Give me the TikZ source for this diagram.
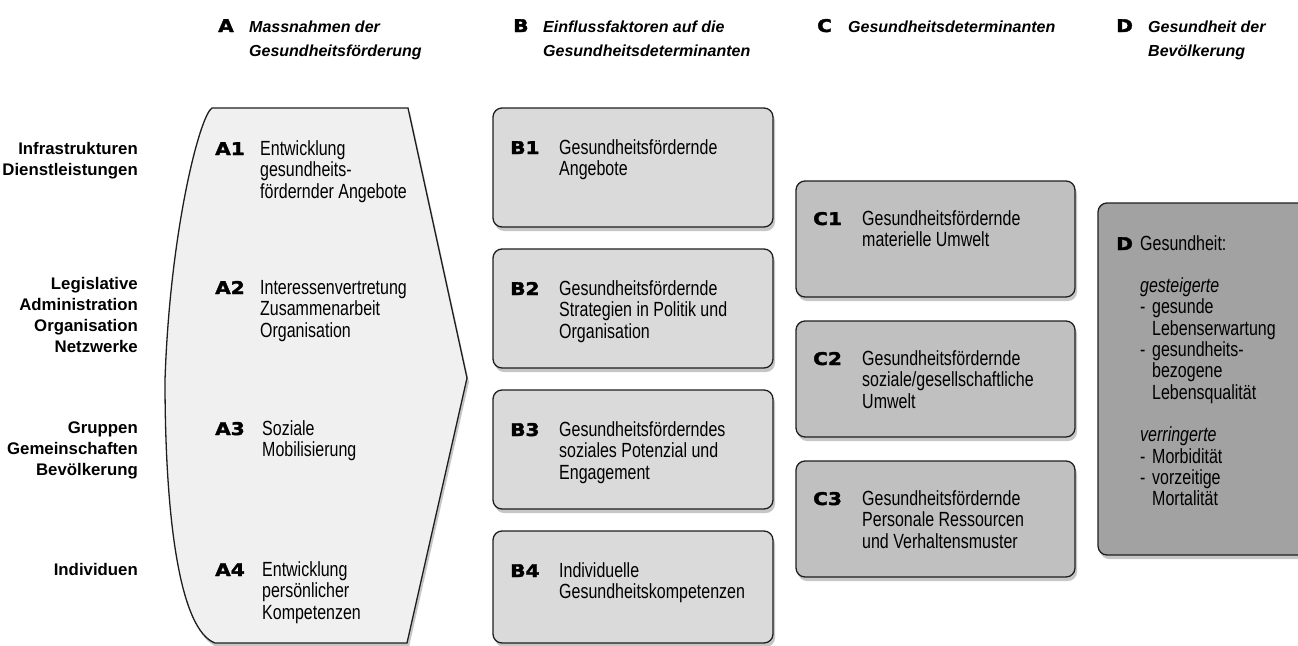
\documentclass[tikz,border=0pt]{standalone}
\usepackage{fontspec}
\setmainfont{Liberation Sans}
\newfontfamily\bodyfont{Liberation Sans}[FakeStretch=0.78]
\newfontfamily\tagfont{DejaVu Sans}[FakeStretch=1.15,FakeBold=2]
\usetikzlibrary{shadows}
\definecolor{afill}{RGB}{240,240,240}
\definecolor{bfill}{RGB}{218,218,218}
\definecolor{cfill}{RGB}{192,192,192}
\definecolor{dfill}{RGB}{162,162,162}
\definecolor{edge}{RGB}{30,30,30}
% lines hanging from the first baseline
\newcommand{\llines}[1]{\begin{tabular}[t]{@{}l@{}}#1\end{tabular}}
\newcommand{\rlines}[1]{\begin{tabular}[t]{@{}r@{}}#1\end{tabular}}

\begin{document}
\begin{tikzpicture}[x=1pt,y=-1pt,
    every node/.style={inner sep=0pt,font=\bodyfont\fontsize{20.5}{21.8}\selectfont},
    hdr/.style={anchor=base west,font=\fontsize{16}{24}\selectfont\bfseries\itshape},
    tag/.style={anchor=base west,font=\tagfont\fontsize{17.5}{20}\selectfont\bfseries},
    txt/.style={anchor=base west},
    lvl/.style={anchor=base east,font=\fontsize{16.8}{21.3}\selectfont\bfseries},
    shade/.style={drop shadow={opacity=0.45,shadow xshift=2pt,shadow yshift=-4pt}},
    box/.style={draw=edge,line width=1.3pt,rounded corners=9pt,shade}]
    \useasboundingbox (0,0) rectangle (1298,645);

    % headers
    \node[tag] (hda) at (218,32) {A};
    \node[hdr] (hdatxt) at (249,32) {\llines{Massnahmen der\\Gesundheitsförderung}};
    \node[tag] (hdb) at (513,32) {B};
    \node[hdr] (hdbtxt) at (543,32) {\llines{Einflussfaktoren auf die\\Gesundheitsdeterminanten}};
    \node[tag] (hdc) at (817,32) {C};
    \node[hdr] (hdctxt) at (848,32) {Gesundheitsdeterminanten};
    \node[tag] (hdd) at (1116,32) {D};
    \node[hdr] (hddtxt) at (1148,32) {\llines{Gesundheit der\\Bevölkerung}};

    % levels
    \node[lvl] (lv1) at (138,154) {\rlines{Infrastrukturen\\Dienstleistungen}};
    \node[lvl] (lv2) at (138,289) {\rlines{Legislative\\Administration\\Organisation\\Netzwerke}};
    \node[lvl] (lv3) at (138,433) {\rlines{Gruppen\\Gemeinschaften\\Bevölkerung}};
    \node[lvl] (lv4) at (138,575) {Individuen};

    % A: Massnahmen
    \draw[draw=edge,line width=1.3pt,fill=afill,shade]
        (408,108) -- (467,378) -- (407,643) -- (215,643)
        .. controls (180,630) and (165,520) .. (165,380)
        .. controls (170,230) and (200,115) .. (212,108) -- cycle;
    \node[tag] (a1) at (215,155) {A1};
    \node[txt] (a1txt) at (260,155) {\llines{Entwicklung\\gesundheits-\\fördernder Angebote}};
    \node[tag] (a2) at (215,294) {A2};
    \node[txt] (a2txt) at (260,294) {\llines{Interessenvertretung\\Zusammenarbeit\\Organisation}};
    \node[tag] (a3) at (215,435) {A3};
    \node[txt] (a3txt) at (262,435) {\llines{Soziale\\Mobilisierung}};
    \node[tag] (a4) at (215,576) {A4};
    \node[txt] (a4txt) at (262,576) {\llines{Entwicklung\\persönlicher\\Kompetenzen}};

    % B: Einflussfaktoren
    \node[box,fill=bfill,minimum width=280pt,minimum height=119pt] (b1) at (633,167.5) {};
    \node[box,fill=bfill,minimum width=280pt,minimum height=119pt] (b2) at (633,308.5) {};
    \node[box,fill=bfill,minimum width=280pt,minimum height=119pt] (b3) at (633,449.5) {};
    \node[box,fill=bfill,minimum width=280pt,minimum height=112pt] (b4) at (633,587) {};
    \node[tag] (b1tag) at (510,154) {B1};
    \node[txt] (b1txt) at (559,154) {\llines{Gesundheitsfördernde\\Angebote}};
    \node[tag] (b2tag) at (510,295) {B2};
    \node[txt] (b2txt) at (559,295) {\llines{Gesundheitsfördernde\\Strategien in Politik und\\Organisation}};
    \node[tag] (b3tag) at (510,436) {B3};
    \node[txt] (b3txt) at (559,436) {\llines{Gesundheitsförderndes\\soziales Potenzial und\\Engagement}};
    \node[tag] (b4tag) at (510,577) {B4};
    \node[txt] (b4txt) at (559,577) {\llines{Individuelle\\Gesundheitskompetenzen}};

    % C: Determinanten
    \node[box,fill=cfill,minimum width=279pt,minimum height=116pt] (c1) at (935.5,239) {};
    \node[box,fill=cfill,minimum width=279pt,minimum height=116pt] (c2) at (935.5,379) {};
    \node[box,fill=cfill,minimum width=279pt,minimum height=116pt] (c3) at (935.5,519) {};
    \node[tag] (c1tag) at (813,225) {C1};
    \node[txt] (c1txt) at (862,225) {\llines{Gesundheitsfördernde\\materielle Umwelt}};
    \node[tag] (c2tag) at (813,365) {C2};
    \node[txt] (c2txt) at (862,365) {\llines{Gesundheitsfördernde\\soziale/gesellschaftliche\\Umwelt}};
    \node[tag] (c3tag) at (813,505) {C3};
    \node[txt] (c3txt) at (862,505) {\llines{Gesundheitsfördernde\\Personale Ressourcen\\und Verhaltensmuster}};

    % D: Gesundheit
    \node[box,fill=dfill,minimum width=222pt,minimum height=352pt] (d) at (1209,379) {};
    \node[tag] (dtag) at (1116,250) {D};
    \node[txt,font=\bodyfont\fontsize{20.5}{21.3}\selectfont] (dtxt) at (1140,250) {\llines{Gesundheit:\\[21.3pt]
        \textit{gesteigerte}\\
        \makebox[12pt][l]{-}gesunde\\
        \hspace*{12pt}Lebenserwartung\\
        \makebox[12pt][l]{-}gesundheits-\\
        \hspace*{12pt}bezogene\\
        \hspace*{12pt}Lebensqualität\\[21.3pt]
        \textit{verringerte}\\
        \makebox[12pt][l]{-}Morbidität\\
        \makebox[12pt][l]{-}vorzeitige\\
        \hspace*{12pt}Mortalität}};
\end{tikzpicture}
\end{document}
